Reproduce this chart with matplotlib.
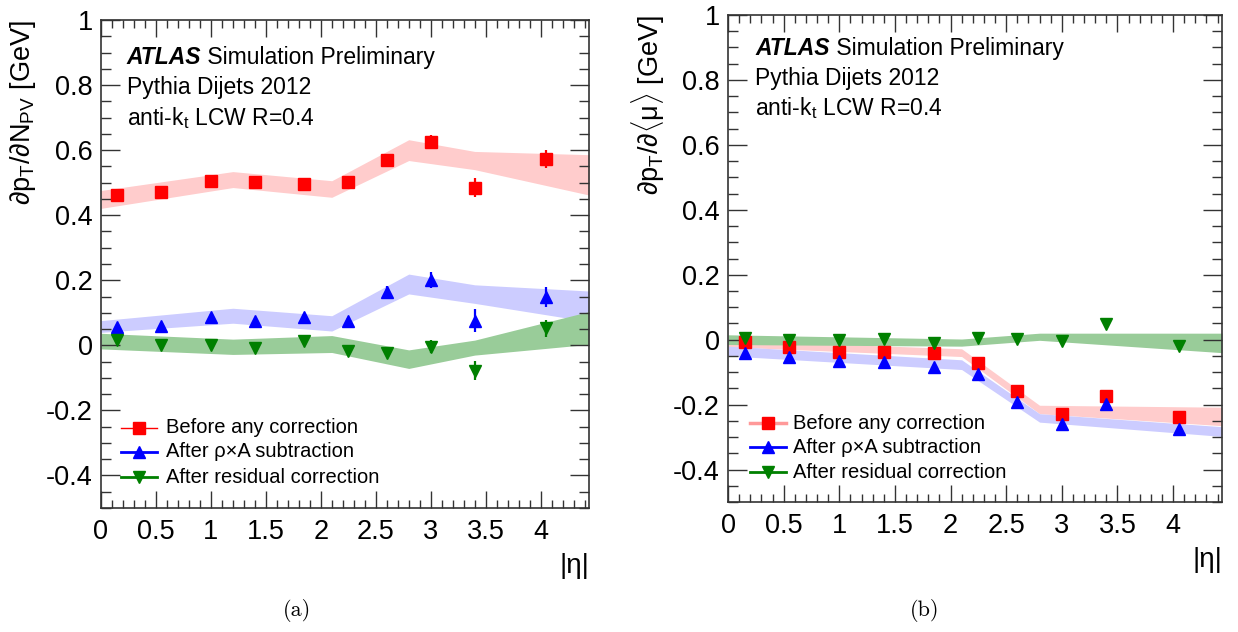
import matplotlib
matplotlib.use("Agg")
import matplotlib.pyplot as plt
from matplotlib.ticker import MultipleLocator, FuncFormatter

plt.rcParams['font.family'] = ['Liberation Sans', 'DejaVu Sans']
plt.rcParams['mathtext.fontset'] = 'custom'
plt.rcParams['mathtext.rm'] = 'Liberation Sans'
plt.rcParams['mathtext.it'] = 'Liberation Sans'
plt.rcParams['mathtext.bf'] = 'Liberation Sans:bold'

# |eta| bin centres
eta = [0.15, 0.55, 1.0, 1.4, 1.85, 2.25, 2.6, 3.0, 3.4, 4.05]

# (a) dpT/dNPV
npv_before = [0.462, 0.472, 0.505, 0.503, 0.495, 0.501, 0.570, 0.625, 0.485, 0.572]
npv_before_err = [0.006, 0.006, 0.007, 0.007, 0.007, 0.008, 0.010, 0.020, 0.030, 0.028]
npv_rhoA = [0.056, 0.058, 0.088, 0.075, 0.087, 0.076, 0.163, 0.200, 0.076, 0.148]
npv_rhoA_err = [0.006, 0.006, 0.007, 0.007, 0.007, 0.008, 0.020, 0.025, 0.035, 0.030]
npv_resid = [0.016, 0.0, 0.002, -0.008, 0.012, -0.016, -0.024, -0.005, -0.078, 0.052]
npv_resid_err = [0.006, 0.006, 0.007, 0.007, 0.007, 0.008, 0.010, 0.020, 0.030, 0.025]

npv_band_x = [0.0, 1.2, 2.1, 2.8, 3.4, 4.44]
npv_before_hi = [0.476, 0.534, 0.506, 0.632, 0.596, 0.586]
npv_before_lo = [0.421, 0.485, 0.455, 0.568, 0.540, 0.462]
npv_rhoA_hi = [0.076, 0.114, 0.091, 0.219, 0.186, 0.167]
npv_rhoA_lo = [0.040, 0.068, 0.044, 0.158, 0.129, 0.073]
npv_resid_hi = [0.037, 0.019, 0.030, -0.014, 0.016, 0.104]
npv_resid_lo = [-0.011, -0.028, -0.022, -0.071, -0.030, 0.003]

# (b) dpT/d<mu>
mu_before = [-0.008, -0.023, -0.037, -0.037, -0.042, -0.073, -0.158, -0.230, -0.175, -0.237]
mu_before_err = [0.002, 0.002, 0.002, 0.002, 0.002, 0.003, 0.004, 0.005, 0.012, 0.006]
mu_rhoA = [-0.042, -0.052, -0.067, -0.068, -0.085, -0.107, -0.192, -0.260, -0.198, -0.275]
mu_rhoA_err = [0.002, 0.002, 0.002, 0.002, 0.002, 0.003, 0.004, 0.005, 0.010, 0.006]
mu_resid = [0.005, 0.0, -0.002, 0.003, -0.010, 0.005, 0.002, -0.005, 0.048, -0.018]
mu_resid_err = [0.002, 0.002, 0.002, 0.002, 0.002, 0.003, 0.004, 0.005, 0.010, 0.006]

mu_band_x = [0.0, 2.1, 2.8, 4.44]
mu_before_hi = [-0.002, -0.028, -0.202, -0.208]
mu_before_lo = [-0.022, -0.052, -0.228, -0.265]
mu_rhoA_hi = [-0.020, -0.062, -0.228, -0.268]
mu_rhoA_lo = [-0.050, -0.092, -0.254, -0.298]
mu_resid_hi = [0.015, 0.002, 0.020, 0.020]
mu_resid_lo = [-0.015, -0.020, -0.002, -0.040]

labels = ["Before any correction", "After \u03c1\u00d7A subtraction", "After residual correction"]
RED, BLUE, GREEN = "#ff0000", "#0000ff", "#008000"
FILLS = ["#ffcccc", "#ccccff", "#99cc99"]
MARKERS = ["s", "^", "v"]

fig = plt.figure(figsize=(12.38, 6.32), dpi=100)
ax_a = fig.add_axes([101 / 1238, 1 - 508 / 632, 488 / 1238, 488 / 632])
ax_b = fig.add_axes([728 / 1238, 1 - 502 / 632, 494 / 1238, 487 / 632])


def fmt(v, pos):
    s = f"{v:.1f}"
    if s.endswith(".0"):
        s = s[:-2]
    if s == "-0":
        s = "0"
    return s


def style_axes(ax):
    ax.set_xlim(0, 4.44)
    ax.set_ylim(-0.5, 1.0)
    ax.xaxis.set_major_locator(MultipleLocator(0.5))
    ax.xaxis.set_minor_locator(MultipleLocator(0.1))
    ax.yaxis.set_major_locator(MultipleLocator(0.2))
    ax.yaxis.set_minor_locator(MultipleLocator(0.05))
    ax.xaxis.set_major_formatter(FuncFormatter(fmt))
    ax.yaxis.set_major_formatter(FuncFormatter(fmt))
    ax.tick_params(which="both", direction="in", top=True, right=True,
                   color="#333333", width=1, labelsize=19.5)
    ax.tick_params(axis="x", which="major", length=12, pad=8)
    ax.tick_params(axis="x", which="minor", length=6)
    ax.tick_params(axis="y", which="major", length=14, pad=6)
    ax.tick_params(axis="y", which="minor", length=7)
    for sp in ax.spines.values():
        sp.set_color("#333333")
        sp.set_linewidth(1.2)
    ax.set_xlabel("|\u03b7|", fontsize=20, loc="right", labelpad=6)


def draw_panel(ax, bx, bands, series, errs):
    for (lo, hi), fc in zip(bands, FILLS):
        ax.fill_between(bx, lo, hi, color=fc, linewidth=0, zorder=1)
    for y, e, c, m in zip(series, errs, [RED, BLUE, GREEN], MARKERS):
        ax.errorbar(eta, y, yerr=e, fmt=m, color=c, ms=8, elinewidth=1.6,
                    capsize=0, zorder=3)


def draw_text(ax, x0, ys):
    atl = ax.text(x0, ys[0], "ATLAS", transform=ax.transAxes, fontsize=16.5,
                  fontweight="bold", fontstyle="italic", va="bottom", ha="left")
    ax.annotate(" Simulation Preliminary", xy=(1, 0), xycoords=atl,
                fontsize=16.5, va="bottom", ha="left")
    ax.text(x0, ys[1], "Pythia Dijets 2012", transform=ax.transAxes,
            fontsize=16.5, va="bottom", ha="left")
    ax.text(x0, ys[2], r"anti-k$_{t}$ LCW R=0.4", transform=ax.transAxes,
            fontsize=16.5, va="bottom", ha="left")


def draw_legend(ax, x0, x1, xt, ys, lws, lcolors):
    for y, lab, c, lc, lw, m in zip(ys, labels, [RED, BLUE, GREEN], lcolors, lws, MARKERS):
        ax.plot([x0, x1], [y, y], color=lc, lw=lw, transform=ax.transAxes,
                clip_on=False, zorder=4)
        ax.plot([(x0 + x1) / 2], [y], marker=m, color=c, ms=8,
                transform=ax.transAxes, clip_on=False, zorder=5)
        ax.text(xt, y, lab, transform=ax.transAxes, fontsize=14.5,
                va="center", ha="left")


# panel (a)
style_axes(ax_a)
draw_panel(ax_a, npv_band_x,
           [(npv_before_lo, npv_before_hi), (npv_rhoA_lo, npv_rhoA_hi),
            (npv_resid_lo, npv_resid_hi)],
           [npv_before, npv_rhoA, npv_resid],
           [npv_before_err, npv_rhoA_err, npv_resid_err])
draw_text(ax_a, 0.053, [0.9, 0.838, 0.772])
draw_legend(ax_a, 0.041, 0.115, 0.133, [0.164, 0.115, 0.0635],
            [1.0, 2.0, 2.0], [RED, BLUE, GREEN])
ax_a.set_ylabel(r"$\partial$p$_{T}$/$\partial$N$_{PV}$ [GeV]", fontsize=19.5, loc="top")
ax_a.yaxis.set_label_coords(-0.13, 1.0)

# panel (b)
style_axes(ax_b)
draw_panel(ax_b, mu_band_x,
           [(mu_before_lo, mu_before_hi), (mu_rhoA_lo, mu_rhoA_hi),
            (mu_resid_lo, mu_resid_hi)],
           [mu_before, mu_rhoA, mu_resid],
           [mu_before_err, mu_rhoA_err, mu_resid_err])
draw_text(ax_b, 0.055, [0.907, 0.846, 0.782])
draw_legend(ax_b, 0.0445, 0.117, 0.131, [0.162, 0.112, 0.0616],
            [2.5, 2.0, 2.0], ["#ff9999", BLUE, GREEN])
ax_b.set_ylabel(r"$\partial$p$_{T}$/$\partial\langle\mu\rangle$ [GeV]", fontsize=19.5, loc="top")
ax_b.yaxis.set_label_coords(-0.123, 1.0)

fig.text(297 / 1238, 1 - 610 / 632, "(a)", fontsize=16, family=["cmr10", "DejaVu Serif"],
         ha="center", va="center")
fig.text(925 / 1238, 1 - 610 / 632, "(b)", fontsize=16, family=["cmr10", "DejaVu Serif"],
         ha="center", va="center")

fig.savefig("out.png", dpi=100)
